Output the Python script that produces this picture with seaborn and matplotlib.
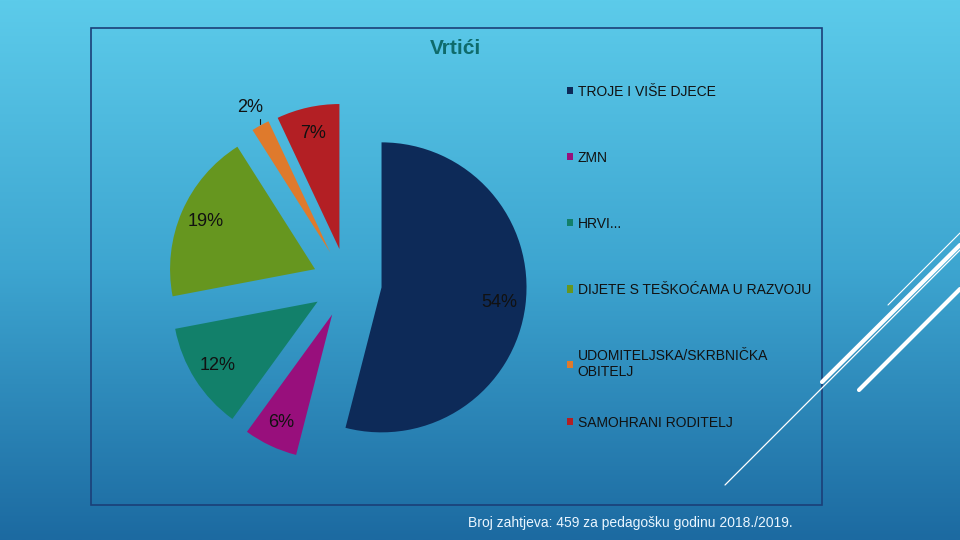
import numpy as np
import matplotlib
matplotlib.use("Agg")
import matplotlib.pyplot as plt
from matplotlib.colors import LinearSegmentedColormap
from matplotlib.patches import Rectangle
import seaborn as sns

# podaci
labels = ['TROJE I VIŠE DJECE', 'ZMN', 'HRVI...', 'DIJETE S TEŠKOĆAMA U RAZVOJU',
          'UDOMITELJSKA/SKRBNIČKA\nOBITELJ', 'SAMOHRANI RODITELJ']
values = [54, 6, 12, 19, 2, 7]
colors = ['#0d2a58', '#980f7c', '#12806a', '#66961f', '#df7a2c', '#b31f24']
title = 'Vrtići'
note = 'Broj zahtjeva: 459 za pedagošku godinu 2018./2019.'

sns.set_theme(style='white')
plt.rcParams['font.family'] = ['Liberation Sans', 'DejaVu Sans']

W, H = 960, 540
fig = plt.figure(figsize=(9.6, 5.4), dpi=100)

# pozadina s gradijentom
bg = fig.add_axes([0, 0, 1, 1])
cmap = LinearSegmentedColormap.from_list('bg', ['#5ccbea', '#3da5d0', '#1c6aa1'])
grad = np.linspace(0, 1, 256).reshape(-1, 1)
bg.imshow(grad, aspect='auto', cmap=cmap, extent=[0, W, H, 0])
bg.set_xlim(0, W)
bg.set_ylim(H, 0)
bg.axis('off')

# ukrasne linije
bg.plot([725, 960], [485, 250], color='white', lw=0.9)
bg.plot([822, 960], [382, 245], color='white', lw=3)
bg.plot([888, 960], [305, 233], color='white', lw=0.8)
bg.plot([859, 960], [390, 289], color='white', lw=3)

# okvir grafikona
bg.add_patch(Rectangle((91, 28), 731, 477, fill=False, edgecolor='#1b3f78', lw=1.2))

# pita
a = 1.6
size = 2 * a * 145
cx, cy = 347, 283
ax = fig.add_axes([(cx - size / 2) / W, (H - cy - size / 2) / H, size / W, size / H])
ax.set_facecolor('none')
wedges, texts, autotexts = ax.pie(values, colors=colors, startangle=90, counterclock=False,
                                  explode=[0.24] * len(values), autopct='%1.0f%%',
                                  pctdistance=0.82, wedgeprops={'linewidth': 0},
                                  textprops={'fontsize': 13, 'color': '#111111'})
ax.set_xlim(-a, a)
ax.set_ylim(-a, a)
ax.set_aspect('equal')
ax.axis('off')

# mala kriška - oznaka izvan
w = wedges[4]
mid = np.deg2rad((w.theta1 + w.theta2) / 2)
ux, uy = np.cos(mid), np.sin(mid)
x0, y0 = w.center
autotexts[4].set_position((x0 + 1.14 * ux, y0 + 1.14 * uy))
ax.plot([x0 + 1.01 * ux, x0 + 1.01 * ux], [y0 + 1.01 * uy, y0 + 1.05 * uy], color='#111111', lw=0.8)

# legenda (zadnja stavka posebno zbog dvoredne oznake)
opts = dict(loc='upper left', frameon=False, fontsize=10, handlelength=0.45, handleheight=0.45,
            handletextpad=0.35, labelspacing=3.75)
leg1 = fig.legend(wedges[:5], labels[:5], bbox_to_anchor=(554 / W, 1 - 72 / H), **opts)
leg2 = fig.legend(wedges[5:], labels[5:], bbox_to_anchor=(554 / W, 1 - 403 / H), **opts)
for leg in (leg1, leg2):
    for t in leg.get_texts():
        t.set_color('#111111')

fig.text(455 / W, 1 - 48 / H, title, ha='center', va='center', fontsize=15,
         fontweight='bold', color='#0f6b6b')
fig.text(468 / W, 1 - 523 / H, note, ha='left', va='center', fontsize=10, color='#eaf6ff')

fig.savefig('out.png', dpi=100)
